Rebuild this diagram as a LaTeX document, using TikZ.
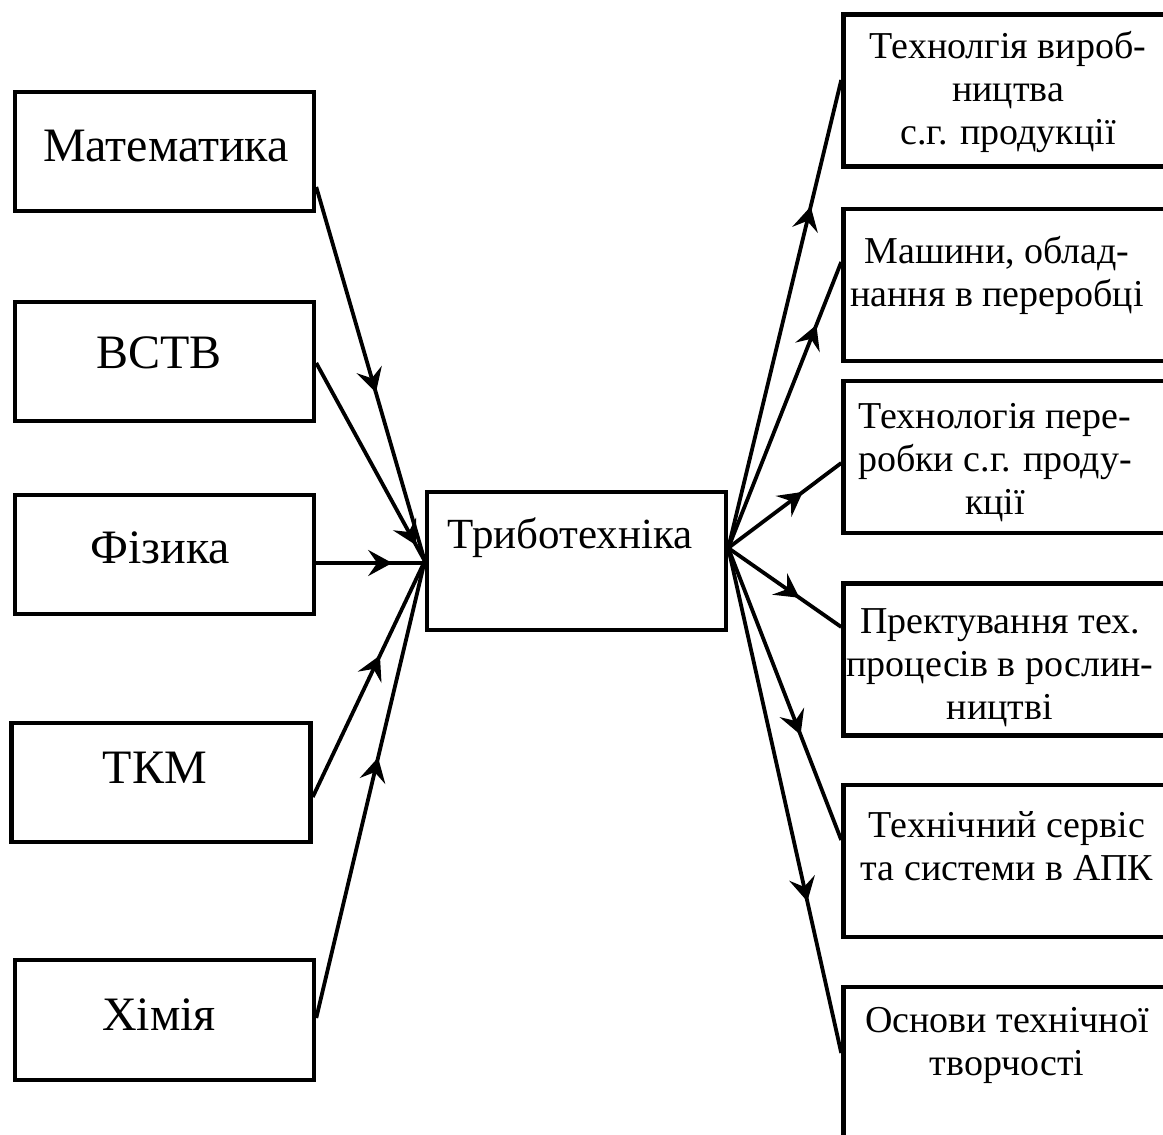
\documentclass[tikz,border=0pt]{standalone}
\usepackage{fontspec}
\setmainfont{Liberation Serif}
\usetikzlibrary{arrows.meta,decorations.markings}
\tikzset{
  box/.style={draw, line width=4.5pt, rectangle, inner sep=0pt},
  lbox/.style={box, minimum width=299pt, minimum height=119pt},
  rbox/.style={box, minimum width=330pt, minimum height=152pt},
  ltext/.style={font=\fontsize{48}{52}\selectfont, inner sep=0pt},
  ctext/.style={font=\fontsize{43}{48}\selectfont, inner sep=0pt},
  rtext/.style={font=\fontsize{38}{43}\selectfont, align=center, inner sep=0pt},
  conn/.style={line width=3.8pt},
  arr/.style={conn, postaction={decorate}, decoration={markings,
     mark=at position #1 with {\arrow{Stealth[length=24pt,width=26pt,inset=9pt]}}}}
}
\begin{document}
\begin{tikzpicture}[x=1pt,y=-1pt]
\useasboundingbox (0,0) rectangle (1163,1135);
% left boxes
\node[lbox] (mat) at (164.5,151.5) {};
\node[ltext] at (166,146) {Математика};
\node[lbox] (vstv) at (164.5,361.5) {};
\node[ltext] at (159,353) {ВСТВ};
\node[lbox] (fiz) at (164.5,554.5) {};
\node[ltext] at (160,548) {Фізика};
\node[lbox] (tkm) at (161,782.5) {};
\node[ltext] at (155,768) {ТКМ};
\node[lbox, minimum height=120pt] (him) at (164.5,1020) {};
\node[ltext] at (159,1015) {Хімія};
% center
\node[box, minimum width=299pt, minimum height=138pt] (cen) at (576.5,561) {};
\node[ctext] at (570,538) {Триботехніка};
% right boxes
\node[rbox] (b1) at (1008.5,90.5) {};
\node[rtext] at (1008,92) {Технолгія вироб-\\ництва\\с.г. продукції};
\node[rbox] (b2) at (1008.5,285) {};
\node[rtext] at (997,275) {Машини, облад-\\нання в переробці};
\node[rbox] (b3) at (1008.5,457) {};
\node[rtext] at (995,463) {Технологія пере-\\робки с.г. проду-\\кції};
\node[rbox] (b4) at (1008.5,659.5) {};
\node[rtext] at (1000,668) {Пректування тех.\\процесів в рослин-\\ництві};
\node[rbox] (b5) at (1008.5,861) {};
\node[rtext] at (1007,846) {Технічний сервіс\\та системи в АПК};
\node[rbox] (b6) at (1008.5,1063) {};
\node[rtext] at (1007,1045) {Основи технічної\\творчості};
% left connectors
\draw[arr=0.55] ([yshift=-35.5pt]mat.east) -- (cen.west);
\draw[arr=0.92] ([yshift=-1.5pt]vstv.east) -- (cen.west);
\draw[arr=0.70] ([yshift=-8.5pt]fiz.east) -- ([yshift=-2pt]cen.west);
\draw[arr=0.60] ([yshift=-14.5pt]tkm.east) -- (cen.west);
\draw[arr=0.57] ([yshift=2pt]him.east) -- (cen.west);
% right connectors
\coordinate (cr) at ([yshift=13pt]cen.east);
\draw[arr=0.73] (cr) -- ([yshift=10.5pt]b1.west);
\draw[arr=0.78] (cr) -- ([yshift=23pt]b2.west);
\draw[arr=0.66] (cr) -- ([yshift=-6pt]b3.west);
\draw[arr=0.63] (cr) -- ([yshift=32.5pt]b4.west);
\draw[arr=0.64] (cr) -- ([yshift=21pt]b5.west);
\draw[arr=0.70] (cr) -- ([yshift=10pt]b6.west);
\end{tikzpicture}
\end{document}
